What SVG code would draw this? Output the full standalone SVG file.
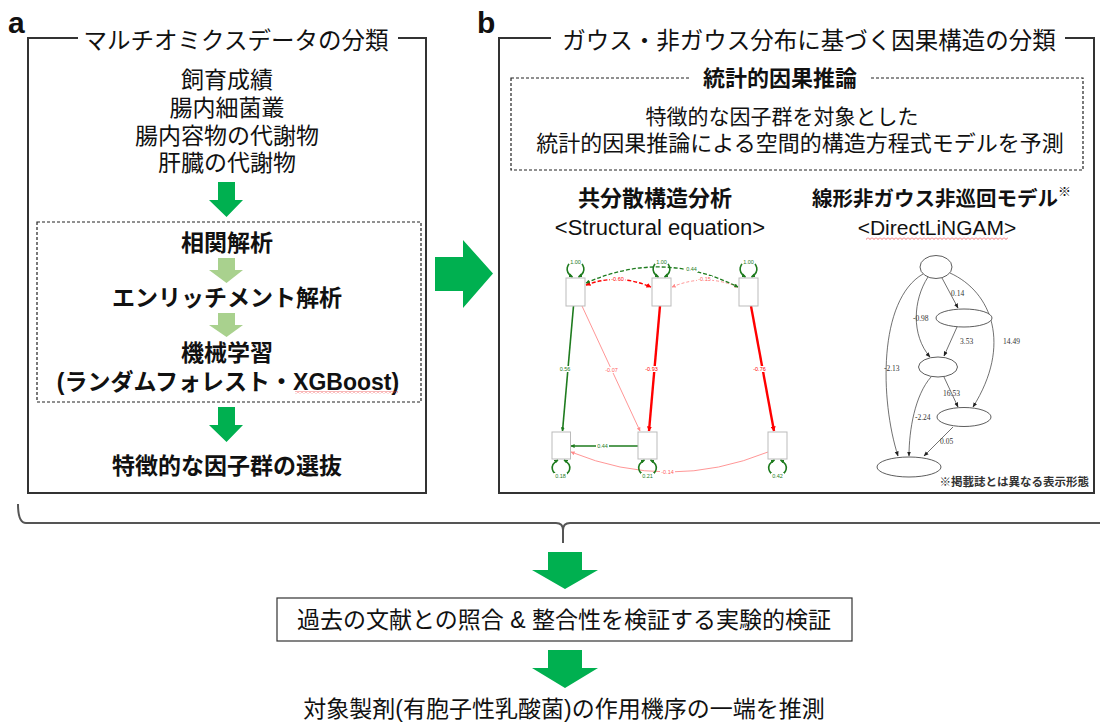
<svg xmlns="http://www.w3.org/2000/svg" width="1100" height="722" viewBox="0 0 1100 722">
<style>
text{font-family:"Liberation Sans","Noto Sans CJK JP",sans-serif;fill:#111}
.t{font-size:23px;text-anchor:middle}
.b{font-weight:bold}
.frame{fill:none;stroke:#333;stroke-width:2}
.dash{fill:none;stroke:#222;stroke-width:1.2;stroke-dasharray:3 2}
.g{fill:#00b050}
.lg{fill:#a9d18e}
.sbox{fill:#fff;stroke:#bbb;stroke-width:1}
.gl{fill:none;stroke:#1e7b1e;stroke-width:1.6}
.rl{fill:none;stroke:#ff0000;stroke-width:2.4}
.pl{fill:none;stroke:#ff8a8a;stroke-width:0.9}
.sl{font-size:5.5px;text-anchor:middle}
.lab{font-family:"Liberation Serif",serif;font-size:7.5px;fill:#333}
.ell{fill:#fff;stroke:#333;stroke-width:0.8}
.le{fill:none;stroke:#333;stroke-width:0.7}
</style>
<defs>
<marker id="ag" viewBox="0 0 10 10" refX="9" refY="5" markerWidth="4" markerHeight="4" orient="auto-start-reverse" markerUnits="userSpaceOnUse"><path d="M0,0L10,5L0,10z" fill="#1e7b1e"/></marker>
<marker id="ar" viewBox="0 0 10 10" refX="9" refY="5" markerWidth="5" markerHeight="5" orient="auto-start-reverse" markerUnits="userSpaceOnUse"><path d="M0,0L10,5L0,10z" fill="#ff0000"/></marker>
<marker id="ap" viewBox="0 0 10 10" refX="9" refY="5" markerWidth="4" markerHeight="4" orient="auto-start-reverse" markerUnits="userSpaceOnUse"><path d="M0,0L10,5L0,10z" fill="#ff8a8a"/></marker>
<marker id="ak" viewBox="0 0 10 10" refX="9" refY="5" markerWidth="5" markerHeight="5" orient="auto" markerUnits="userSpaceOnUse"><path d="M0,1L10,5L0,9z" fill="#222"/></marker>
<pattern id="sq" width="4" height="3" patternUnits="userSpaceOnUse"><polyline points="0,0.5 2,2.5 4,0.5" fill="none" stroke="#e33" stroke-width="0.7"/></pattern>
</defs>

<!-- Panel a -->
<g id="panel-a">
<text x="8" y="33" style="font-size:30px;font-weight:bold">a</text>
<rect class="frame" x="28" y="38" width="398" height="455"/>
<rect x="78" y="28" width="320" height="20" fill="#fff"/>
<text class="t" x="236" y="49" style="font-size:23.5px">マルチオミクスデータの分類</text>
</g>
<g id="node-omics">
<text class="t" x="227" y="88">飼育成績</text>
<text class="t" x="227" y="116">腸内細菌叢</text>
<text class="t" x="227" y="144">腸内容物の代謝物</text>
<text class="t" x="227" y="171">肝臓の代謝物</text>
</g>
<g id="node-analysis">
<rect class="dash" x="37" y="222" width="384" height="180"/>
<text class="t b" x="227" y="251">相関解析</text>
<text class="t b" x="227" y="306">エンリッチメント解析</text>
<text class="t b" x="227" y="361">機械学習</text>
<text class="t b" x="228" y="390">(ランダムフォレスト・XGBoost)</text>
<rect x="295" y="391" width="103" height="3" fill="url(#sq)"/>
</g>
<g id="node-select">
<text class="t b" x="227" y="474">特徴的な因子群の選抜</text>
</g>

<!-- Panel b -->
<g id="panel-b">
<text x="477" y="33" style="font-size:30px;font-weight:bold">b</text>
<rect class="frame" x="499" y="38" width="595" height="455"/>
<rect x="551" y="28" width="514" height="20" fill="#fff"/>
<text class="t" x="809" y="49" style="font-size:23.5px">ガウス・非ガウス分布に基づく因果構造の分類</text>
</g>
<g id="node-causal">
<rect class="dash" x="511" y="78" width="572" height="92"/>
<rect x="690" y="68" width="180" height="20" fill="#fff"/>
<text class="t b" x="780" y="86" style="font-size:22px">統計的因果推論</text>
<text class="t" x="782" y="124" style="font-size:21px">特徴的な因子群を対象とした</text>
<text class="t" x="800" y="151" style="font-size:22px">統計的因果推論による空間的構造方程式モデルを予測</text>
</g>
<g id="node-sem-title">
<text class="t b" x="655" y="206" style="font-size:22px">共分散構造分析</text>
<text class="t" x="660" y="235" style="font-size:22px">&lt;Structural equation&gt;</text>
</g>
<g id="node-lingam-title">
<text class="t b" x="935" y="206" style="font-size:20.5px">線形非ガウス非巡回モデル</text>
<text x="1058" y="196" style="font-size:13px">※</text>
<text class="t" x="937" y="235" style="font-size:21px">&lt;DirectLiNGAM&gt;</text>
<rect x="866" y="237" width="142" height="3" fill="url(#sq)"/>
</g>

<!-- SEM diagram -->
<g id="sem">
<path class="gl" d="M573.5,306 L562.5,431" marker-end="url(#ag)"/>
<path class="pl" d="M582,306 L640,431" marker-end="url(#ap)"/>
<path class="rl" d="M660,306 L649,431" marker-end="url(#ar)"/>
<path class="rl" d="M751,306 L774,431" marker-end="url(#ar)"/>
<path class="gl" d="M638,446 L571,446" marker-end="url(#ag)"/>
<path class="pl" d="M768,452 Q669,492 571,452" marker-end="url(#ap)"/>
<path class="rl" d="M586,285 Q618,273 651,287" style="stroke-width:1.4;stroke-dasharray:4 2" marker-start="url(#ar)" marker-end="url(#ar)"/>
<path class="pl" d="M672,287 Q705,273 738,287" style="stroke-dasharray:3 2" marker-start="url(#ap)" marker-end="url(#ap)"/>
<path class="gl" d="M586,283 Q662,249 738,287" style="stroke-width:1.3;stroke-dasharray:4 2" marker-start="url(#ag)" marker-end="url(#ag)"/>
<!-- variance loops -->
<g style="stroke-width:2">
<path class="gl" d="M572.5,277 C564,272 566,262 575.5,262 C585,262 587,272 578.5,277" marker-start="url(#ag)" marker-end="url(#ag)"/>
<path class="gl" d="M658.5,277 C650,272 652,262 661.5,262 C671,262 673,272 664.5,277" marker-start="url(#ag)" marker-end="url(#ag)"/>
<path class="gl" d="M745.5,277 C737,272 739,262 748.5,262 C758,262 760,272 751.5,277" marker-start="url(#ag)" marker-end="url(#ag)"/>
<path class="gl" d="M558,460 C549,465 551,475 561,475 C571,475 573,465 564,460" marker-start="url(#ag)" marker-end="url(#ag)"/>
<path class="gl" d="M644.5,460 C635.5,465 637.5,475 647.5,475 C657.5,475 659.5,465 650.5,460" marker-start="url(#ag)" marker-end="url(#ag)"/>
<path class="gl" d="M774.5,460 C765.5,465 767.5,475 777.5,475 C787.5,475 789.5,465 780.5,460" marker-start="url(#ag)" marker-end="url(#ag)"/>
</g>
<rect class="sbox" x="566" y="278" width="19" height="28"/>
<rect class="sbox" x="652" y="278" width="19" height="28"/>
<rect class="sbox" x="739" y="278" width="19" height="28"/>
<rect class="sbox" x="552" y="432" width="18.5" height="27"/>
<rect class="sbox" x="638" y="432" width="19" height="27"/>
<rect class="sbox" x="768" y="432" width="19" height="27"/>
<g fill="#fff">
<rect x="569" y="258.5" width="13" height="6"/><rect x="655" y="258.5" width="13" height="6"/><rect x="742" y="258.5" width="13" height="6"/>
<rect x="558" y="366" width="13" height="6"/><rect x="604" y="367" width="15" height="6"/><rect x="644" y="366" width="15" height="6"/><rect x="752" y="366" width="15" height="6"/>
<rect x="596" y="443" width="13" height="6"/><rect x="660" y="469" width="15" height="6"/><rect x="610" y="276" width="15" height="6"/><rect x="697" y="276" width="15" height="6"/><rect x="685" y="266" width="13" height="6"/>
<rect x="554" y="473" width="13" height="6"/><rect x="641" y="473" width="13" height="6"/><rect x="771" y="473" width="13" height="6"/>
</g>
<g class="sl">
<text x="575.5" y="263.8" style="fill:#1e7b1e">1.00</text>
<text x="661.5" y="263.8" style="fill:#1e7b1e">1.00</text>
<text x="748.5" y="263.8" style="fill:#1e7b1e">1.00</text>
<text x="565" y="371" style="fill:#1e7b1e">0.56</text>
<text x="611.5" y="372" style="fill:#ff6060">-0.07</text>
<text x="651.5" y="371" style="fill:#ff0000">-0.93</text>
<text x="759.5" y="371" style="fill:#ff0000">-0.76</text>
<text x="602.5" y="448" style="fill:#1e7b1e">0.44</text>
<text x="667.5" y="474" style="fill:#ff6060">-0.14</text>
<text x="617.5" y="281" style="fill:#ff0000">-0.60</text>
<text x="704.5" y="281" style="fill:#ff6060">-0.15</text>
<text x="691.5" y="271" style="fill:#1e7b1e">0.44</text>
<text x="560.5" y="478" style="fill:#1e7b1e">0.18</text>
<text x="647.5" y="478" style="fill:#1e7b1e">0.21</text>
<text x="777.5" y="478" style="fill:#1e7b1e">0.42</text>
</g>
</g>

<!-- LiNGAM diagram -->
<g id="lingam">
<path class="le" d="M942,278 L958,308" marker-end="url(#ak)"/>
<path class="le" d="M928,277 C913,300 911,335 930,357" marker-end="url(#ak)"/>
<path class="le" d="M957,327 L944,356" marker-end="url(#ak)"/>
<path class="le" d="M950,273 C992,292 1012,345 973,407" marker-end="url(#ak)"/>
<path class="le" d="M923,274 C878,300 880,400 898,456" marker-end="url(#ak)"/>
<path class="le" d="M944,377 L958,407" marker-end="url(#ak)"/>
<path class="le" d="M931,377 C915,395 909,430 909,456" marker-end="url(#ak)"/>
<path class="le" d="M953,427 L924,456" marker-end="url(#ak)"/>
<ellipse class="ell" cx="936" cy="267" rx="16" ry="11.5"/>
<ellipse class="ell" cx="964" cy="318" rx="28" ry="9"/>
<ellipse class="ell" cx="938" cy="367" rx="19.5" ry="10"/>
<ellipse class="ell" cx="964" cy="417" rx="27" ry="9.5"/>
<ellipse class="ell" cx="909" cy="467" rx="32" ry="10"/>
<text class="lab" x="951" y="295.5">0.14</text>
<text class="lab" x="913" y="320.5">-0.98</text>
<text class="lab" x="960" y="344">3.53</text>
<text class="lab" x="1003" y="344">14.49</text>
<text class="lab" x="884" y="370.5">-2.13</text>
<text class="lab" x="943" y="395.5">16.53</text>
<text class="lab" x="915" y="419.5">-2.24</text>
<text class="lab" x="940" y="444">0.05</text>
<text x="1089" y="486" style="font-size:11.5px;text-anchor:end;font-weight:bold;fill:#333">※掲載誌とは異なる表示形態</text>
</g>

<!-- connectors -->
<g id="connectors">
<polygon class="g" points="218,182 235,182 235,200 243,200 226.5,217 209,200 218,200"/>
<polygon class="lg" points="218,258 235,258 235,270 243,270 226.5,283 209,270 218,270"/>
<polygon class="lg" points="218,313 235,313 235,325 243,325 226.5,337 209,325 218,325"/>
<polygon class="g" points="218,407 235,407 235,425 243,425 226.5,442 209,425 218,425"/>
<polygon class="g" points="435,257 463,257 463,240 493,273.5 463,308 463,291 435,291"/>
<path d="M18,504 Q18,523 26,523 H556 Q563,523 563,530 V543 M563,530 Q563,523 570,523 H1100" fill="none" stroke="#555" stroke-width="2"/>
<polygon class="g" points="548,552 582,552 582,570 598,570 565,589 532,570 548,570"/>
<polygon class="g" points="548,650 582,650 582,668 598,668 565,688 532,668 548,668"/>
</g>

<g id="node-verify">
<rect x="277" y="598" width="575" height="43" fill="#fff" stroke="#333" stroke-width="1.2"/>
<text class="t" x="564" y="628">過去の文献との照合 &amp; 整合性を検証する実験的検証</text>
</g>
<g id="node-conclusion">
<text class="t" x="564" y="717">対象製剤(有胞子性乳酸菌)の作用機序の一端を推測</text>
</g>
</svg>
